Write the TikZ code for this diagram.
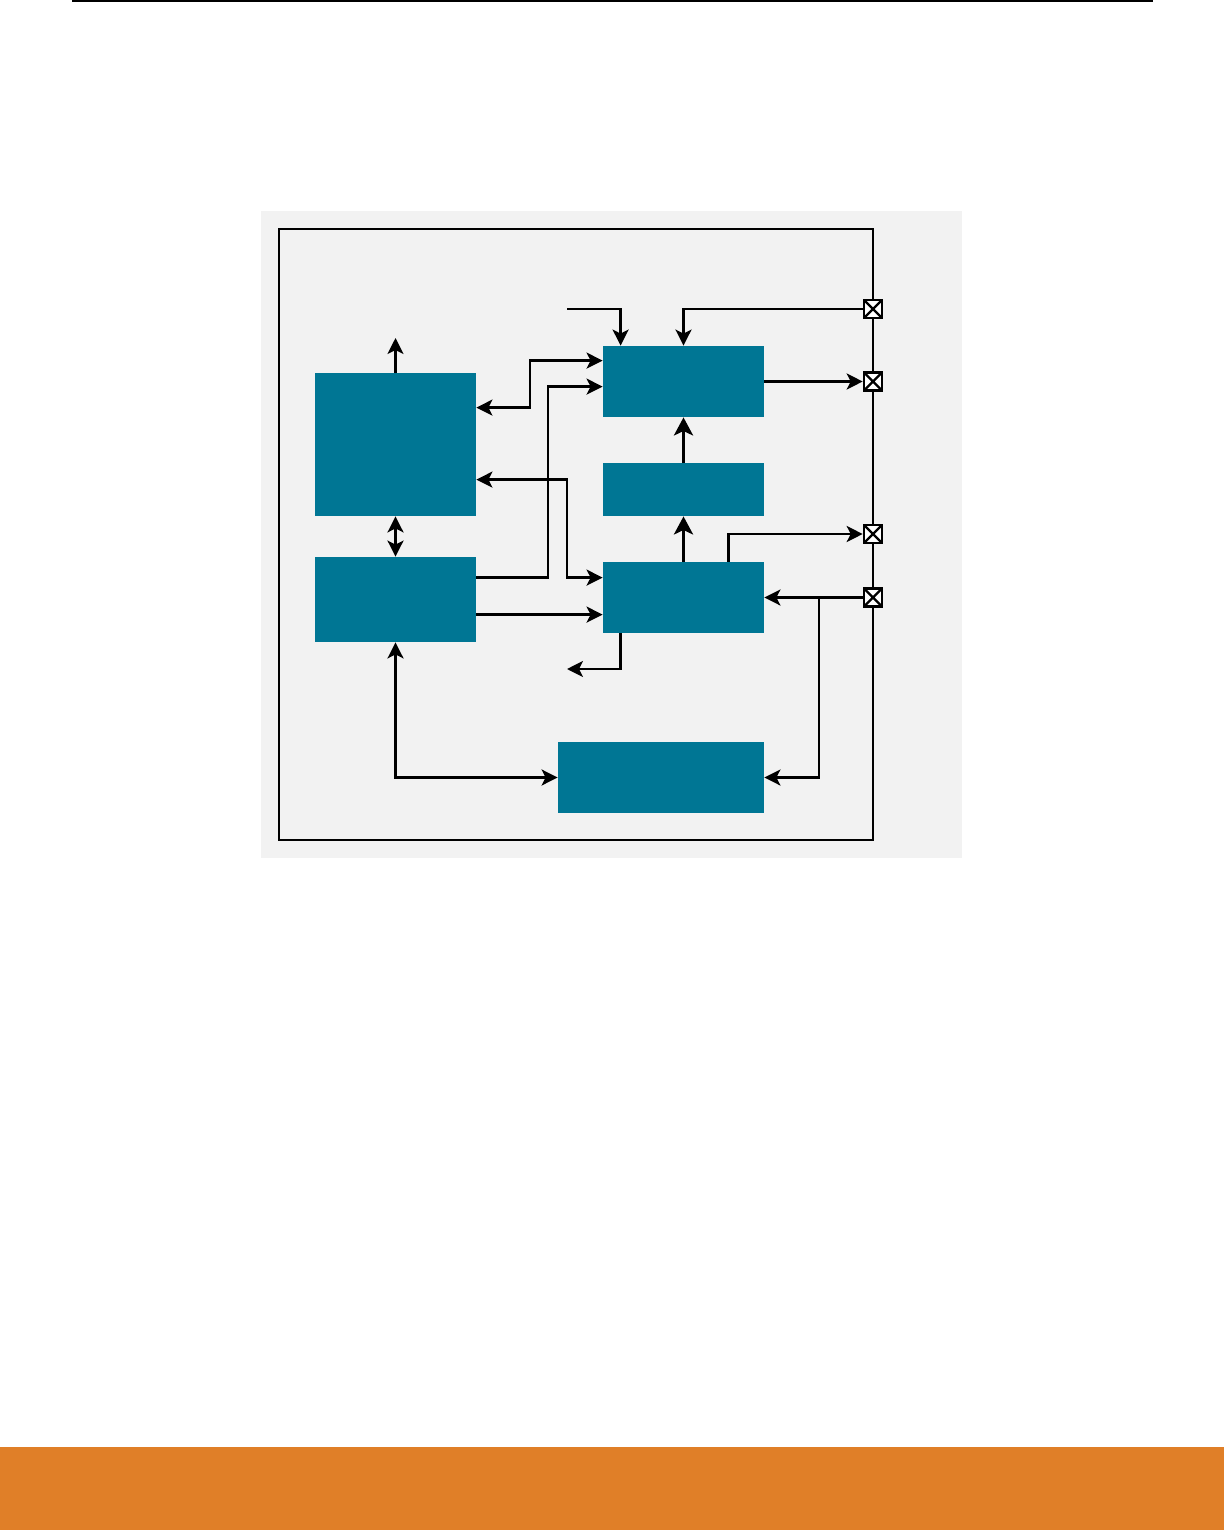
\documentclass[tikz,border=0pt]{standalone}
\usetikzlibrary{arrows.meta}
\definecolor{teal}{RGB}{0,118,148}
\definecolor{bggray}{RGB}{242,242,242}
\definecolor{orng}{RGB}{224,127,40}
\begin{document}
\begin{tikzpicture}[x=0.5pt,y=-0.5pt,
  blk/.style={fill=teal,draw=none,inner sep=0pt},
  pinbox/.style={draw=black,line width=1.3pt,fill=white,minimum size=9pt,inner sep=0pt,
    path picture={\draw[line width=1.2pt] (path picture bounding box.north west)--(path picture bounding box.south east)
      (path picture bounding box.north east)--(path picture bounding box.south west);}},
  wire/.style={line width=1.25pt},
  arr/.style={wire,-{Stealth[length=8pt,width=8pt,inset=2pt]}},
  darr/.style={wire,{Stealth[length=8pt,width=8pt,inset=2pt]}-{Stealth[length=8pt,width=8pt,inset=2pt]}},
  tarr/.style={line width=1.75pt,-{Stealth[length=9pt,width=9.5pt,inset=2.2pt]}}]
\useasboundingbox (0,0) rectangle (1224,1530);
\fill[white] (0,0) rectangle (1224,1530);
% page decorations
\draw[line width=1pt] (72,1) coordinate (tl) -- (1153,1) coordinate (tr);
\fill[orng] (0,1447) rectangle (1224,1530);
% background and frame
\fill[bggray] (261,211) rectangle (962,858);
\draw[wire] (279,229) rectangle (873,840);
% blocks
\node[blk,minimum width=80.5pt,minimum height=71.5pt] (A) at (395.5,444.5) {};
\node[blk,minimum width=80.5pt,minimum height=42.5pt] (B) at (395.5,599.5) {};
\node[blk,minimum width=80.5pt,minimum height=35.5pt] (C) at (683.5,381.5) {};
\node[blk,minimum width=80.5pt,minimum height=26.5pt] (D) at (683.5,489.5) {};
\node[blk,minimum width=80.5pt,minimum height=35.5pt] (E) at (683.5,597.5) {};
\node[blk,minimum width=103pt,minimum height=35.5pt] (F) at (661,777.5) {};
% pins
\node[pinbox] (P1) at (873,309) {};
\node[pinbox] (P2) at (873,381.5) {};
\node[pinbox] (P3) at (873,534) {};
\node[pinbox] (P4) at (873,597.5) {};
% free ends
\coordinate (aout) at (395.5,338);
\coordinate (cin) at (567,309);
\coordinate (eout) at (567,669);
\coordinate (br) at (819,597.5);
% connectors
\draw[arr] (A.north) -- (aout);
\draw[darr] (A.south) -- (B.north);
\draw[darr] (B.south) |- (F.west);
\draw[darr] ([yshift=-17.5pt]A.north east) -| (530,380) |- ([yshift=-7.5pt]C.north west);
\draw[arr] ([yshift=-10.5pt]B.north east) -| (548,480) |- ([yshift=-20.5pt]C.north west);
\draw[darr] ([yshift=-53.5pt]A.north east) -| (567,530) |- ([yshift=-8pt]E.north west);
\draw[arr] ([yshift=-29pt]B.north east) -- ([yshift=-26.5pt]E.north west);
\draw[arr] (cin) -| ([xshift=9pt]C.north west);
\draw[arr] (P1.west) -| (C.north);
\draw[arr] (C.east) -- (P2.west);
\draw[tarr] (D.north) -- (C.south);
\draw[tarr] (E.north) -- (D.south);
\draw[arr] ([xshift=63pt]E.north west) |- (P3.west);
\draw[arr] (P4.west) -- (E.east);
\draw[arr] (br) |- (F.east);
\draw[arr] ([xshift=9pt]E.south west) |- (eout);
% redraw pins on top
\node[pinbox] at (P1) {};
\node[pinbox] at (P2) {};
\node[pinbox] at (P3) {};
\node[pinbox] at (P4) {};
\end{tikzpicture}
\end{document}
